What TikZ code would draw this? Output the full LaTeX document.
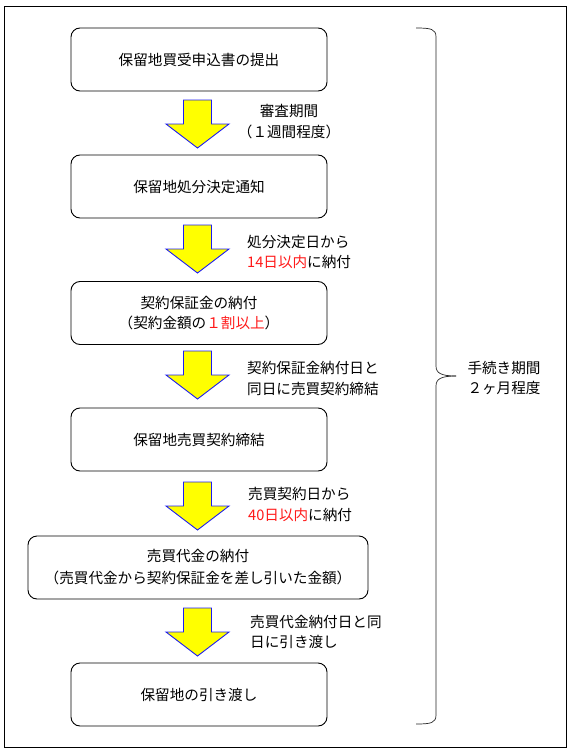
\documentclass[tikz,border=0pt]{standalone}
\usepackage{fontspec}
\setmainfont{Noto Sans CJK JP}
\usetikzlibrary{calc}
\definecolor{arrowfill}{RGB}{255,255,0}
\definecolor{arrowline}{RGB}{30,30,240}
\definecolor{redtxt}{RGB}{255,25,25}
\newcommand{\blockarrow}[1]{%
  \draw[barrow] (#1) ++(-14,0) -- ++(28,0) -- ++(0,24) -- ++(17.5,0)
    -- ++(-31.5,24) -- ++(-31.5,-24) -- ++(17.5,0) -- cycle;}
\begin{document}
\begin{tikzpicture}[x=1pt,y=-1pt,
  box/.style={draw=black, line width=0.9pt, rounded corners=9pt, minimum width=256pt, minimum height=63pt,
    font=\fontsize{14.6}{20}\selectfont, align=center, inner sep=0pt},
  lbl/.style={font=\fontsize{14.6}{20.5}\selectfont, align=left, anchor=west, inner sep=0pt},
  barrow/.style={fill=arrowfill, draw=arrowline, line width=0.9pt, line join=miter},
  bracestyle/.style={draw=black!85, line width=0.7pt},
]
\useasboundingbox (0,0) rectangle (572,752);
\draw[line width=0.9pt] (4,6) rectangle (566,747);

% boxes
\node[box] (b1) at (199,59.5) {保留地買受申込書の提出};
\node[box] (b2) at (199,186.5) {保留地処分決定通知};
\node[box] (b3) at (199,313) {契約保証金の納付\\（契約金額の{\color{redtxt}１割以上}）};
\node[box] (b4) at (199,439.5) {保留地売買契約締結};
\node[box, minimum width=340pt] (b5) at (198,567.5) {売買代金の納付\\[2pt]（売買代金から契約保証金を差し引いた金額）};
\node[box] (b6) at (199,694.5) {保留地の引き渡し};

% block arrows
\coordinate (a1) at (197.5,100);
\coordinate (a2) at (197.5,225);
\coordinate (a3) at (197.5,351);
\coordinate (a4) at (197.5,482);
\coordinate (a5) at (197.5,608);
\blockarrow{a1}
\blockarrow{a2}
\blockarrow{a3}
\blockarrow{a4}
\blockarrow{a5}

% labels
\node[lbl, anchor=center, align=center] (l1) at (289,121.5) {審査期間\\（１週間程度）};
\node[lbl] (l2) at (247,252) {処分決定日から\\{\color{redtxt}14日以内}に納付};
\node[lbl] (l3) at (247,378.5) {契約保証金納付日と\\同日に売買契約締結};
\node[lbl] (l4) at (248,504.5) {売買契約日から\\{\color{redtxt}40日以内}に納付};
\node[lbl] (l5) at (250,632) {売買代金納付日と同\\日に引き渡し};

% brace
\coordinate (bt) at (416,28);
\coordinate (bb) at (416,724);
\coordinate (tip) at (456,376);
\draw[bracestyle] (bt) .. controls (431,28) and (436,29) .. (436,37) -- (436,366)
  .. controls (436,373) and (441,376) .. (tip);
\draw[bracestyle] (bb) .. controls (431,724) and (436,723) .. (436,715) -- (436,386)
  .. controls (436,379) and (441,376) .. (tip);
\node[lbl, anchor=center, align=center] (side) at (504,378) {手続き期間\\２ヶ月程度};
\end{tikzpicture}
\end{document}
